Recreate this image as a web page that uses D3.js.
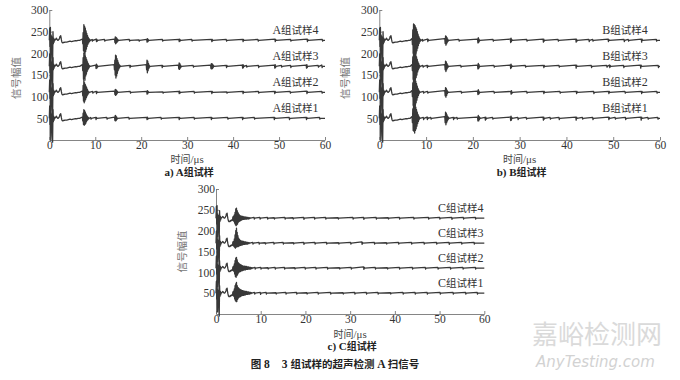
<!DOCTYPE html>
<html lang="zh">
<head>
<meta charset="UTF-8">
<title>3组试样的超声检测A扫信号</title>
<script src="https://cdn.jsdelivr.net/npm/d3@7"></script>
<style>
  body { margin:0; background:#fff; }
  .tick text { font-family:"Liberation Serif",serif; font-size:11.5px; fill:#333; }
  .domain { stroke:#666; stroke-width:0.8; }
  .tick line { stroke:#666; stroke-width:0.8; }
  path.sig { fill:none; stroke:#383838; stroke-width:1.3; stroke-linejoin:round; }
</style>
</head>
<body>
<script>
// ---- data (time in µs, amplitude relative to each trace's offset) ----
var xTicks = [0, 10, 20, 30, 40, 50, 60];
var yTicks = [50, 100, 150, 200, 250, 300];
var offsets = [50, 110, 170, 230];
var labelsA = ["A组试样1", "A组试样2", "A组试样3", "A组试样4"];
var labelsB = ["B组试样1", "B组试样2", "B组试样3", "B组试样4"];
var labelsC = ["C组试样1", "C组试样2", "C组试样3", "C组试样4"];

// bursts: [start time, samples, sample step (default 0.08)]
var headAB = [
  [0, [0,28,-14,30,-50,12,-22,8,-40,-55,20,-8,5,-4,2,0,1,2,3,5,4,2,1,0,0,1,2,3,5,9,7,11,6,1,-3,-5,-6,-6,-5]],
  [3.1, [-5,-4,-4,-3,-2,-3,-2,-1,-1,0,0], 0.35]
];
var headC = [
  [0, [0,28,-14,30,-45,10,-20,6,-40,-55,18,-8,5,-4,2,0,1,2,3,4,3,2,1,0,0,1,2,4,6,10,8,12,5,0,-4,-7,-8,-8,-7,-8,-6,-7,-5,-6,-4,-5,-3]]
];

var sigA1 = [
  [7.2, [3,-6,12,-14,20,-16,18,-14,14,-12,10,-8,7,-5,4,-3,2,-1,0]],
  [9.0,[2,-2,0]], [10.1,[2,-3,2,0]], [12.5,[2,-2,0]],
  [14.2, [3,-5,7,-6,5,-4,3,-2,0]],
  [17.3,[2,-2,0]], [21.2,[2,-3,3,-2,0]], [24.3,[2,-2,0]], [28.2,[2,-3,2,0]],
  [31.5,[2,-2,0]], [35.2,[2,-3,2,0]], [38.8,[2,-2,0]], [42.0,[2,-3,2,0]],
  [44.6,[2,-2,0]], [48.9,[2,-3,2,0]], [52.2,[2,-3,0]], [55.9,[2,-3,2,0]], [58.8,[2,-2,0]]
];
var sigA2 = [
  [7.2, [3,-8,16,-20,28,-24,22,-20,18,-16,14,-12,10,-8,6,-5,3,-2,1,0]],
  [9.4,[2,-2,0]], [10.2,[2,-3,2,0]],
  [14.2, [3,-5,7,-7,6,-5,4,-3,2,0]],
  [17.6,[2,-2,0]], [21.2,[2,-4,4,-3,2,0]], [24.7,[1,-2,0]], [28.2,[2,-3,3,-2,0]],
  [31.5,[2,-2,0]], [35.3,[2,-3,2,0]], [38.6,[1,-2,0]], [42.1,[2,-3,2,0]],
  [45.5,[2,-2,0]], [49.0,[2,-3,2,0]], [52.4,[2,-2,0]], [56.0,[3,-3,2,0]], [59.3,[2,-2,0]]
];
var sigA3 = [
  [7.2, [4,-10,20,-30,30,-28,26,-32,24,-22,20,-18,15,-12,10,-8,6,-5,3,-2,1,0]],
  [10.1, [3,-5,5,-4,3,-2,0]],
  [14.1, [4,-8,14,-20,26,-27,24,-22,18,-16,13,-10,8,-6,4,-3,2,0]],
  [17.5, [2,-3,2,0]],
  [21.1, [4,-8,14,-15,12,-10,7,-5,3,-2,0]],
  [24.5, [2,-3,2,0]],
  [28.1, [3,-6,8,-7,6,-4,3,-2,0]],
  [31.3, [2,-2,0]],
  [35.1, [3,-5,6,-6,6,-5,4,-3,2,0]],
  [38.5, [2,-3,2,0]], [42.0,[3,-4,4,-3,2,0]], [42.9,[2,-2,0]], [45.5,[2,-3,0]],
  [49.0, [3,-4,4,-3,0]], [50.5,[2,-2,0]], [52.5,[2,-3,0]], [55.9,[3,-4,4,-3,0]],
  [58.5,[2,-2,0]], [59.3,[3,-3,0]]
];
var sigA4 = [
  [7.2, [3,-8,18,-24,36,-30,32,-34,28,-26,22,-20,16,-14,11,-9,7,-6,4,-3,2,-1,0]],
  [9.3,[2,-2,1,0]], [10.2,[3,-3,2,-2,0]], [12.0,[2,-2,0]],
  [14.2, [3,-5,8,-8,7,-6,5,-4,3,-2,1,0]],
  [17.4,[2,-2,0]], [19.5,[1,-2,0]], [21.2,[2,-4,4,-3,2,-1,0]], [24.6,[2,-2,0]],
  [28.2,[2,-3,3,-2,1,0]], [31.0,[2,-2,0]], [35.3,[2,-3,2,-1,0]], [38.5,[2,-2,0]],
  [42.1,[2,-3,2,0]], [45.4,[2,-2,0]], [49.1,[3,-3,2,0]], [52.5,[2,-2,0]],
  [56.1,[3,-3,2,0]], [59.4,[2,-2,0]]
];

var sigB1 = [
  [7.0, [4,-10,22,-28,34,-30,36,-34,30,-28,26,-24,20,-18,14,-12,9,-7,5,-3,2,0]],
  [9.4,[2,-3,0]], [10.2,[3,-3,2,0]], [11.0,[2,-2,0]],
  [14.0, [4,-10,14,-15,12,-10,8,-6,4,-3,2,0]],
  [15.8,[2,-3,2,0]], [16.6,[2,-2,0]],
  [21.0, [3,-6,7,-6,4,-3,2,0]], [22.6,[2,-4,3,-2,0]], [24.2,[2,-2,0]],
  [28.0, [3,-5,5,-4,2,0]], [29.6,[2,-3,0]], [31.4,[2,-2,0]],
  [35.0, [3,-4,3,-2,0]], [36.5,[2,-2,0]], [38.4,[2,-3,0]],
  [42.0, [3,-4,3,0]], [43.4,[2,-2,0]], [45.6,[2,-3,0]],
  [49.0, [3,-3,2,0]], [50.4,[2,-2,0]], [52.6,[2,-3,0]],
  [55.9, [3,-4,3,0]], [57.4,[2,-2,0]], [59.5,[2,-2,0]]
];
var sigB2 = [
  [7.0, [4,-10,22,-30,36,-34,34,-36,30,-30,26,-24,20,-18,14,-12,9,-7,5,-3,2,0]],
  [9.4,[2,-2,0]], [10.3,[2,-2,0]],
  [14.0, [4,-8,11,-11,9,-7,5,-3,2,0]],
  [17.5,[2,-2,0]], [21.0,[3,-5,6,-4,3,-2,0]], [24.5,[2,-2,0]], [28.1,[2,-4,4,-3,0]],
  [31.5,[2,-2,0]], [35.1,[2,-3,2,0]], [38.6,[2,-2,0]], [42.1,[2,-3,2,0]],
  [45.8,[2,-3,0]], [49.0,[2,-3,2,0]], [52.5,[2,-2,0]], [56.0,[2,-3,2,0]], [59.3,[2,-2,0]]
];
var sigB3 = [
  [7.0, [4,-10,22,-30,36,-36,34,-36,32,-30,28,-26,22,-20,16,-13,10,-8,6,-4,2,-1,0]],
  [9.3,[2,-2,0]], [10.2,[2,-3,2,0]],
  [14.0, [4,-8,12,-12,10,-8,6,-4,3,-2,0]],
  [17.4,[2,-2,0]], [21.0,[3,-6,7,-5,4,-2,0]], [24.5,[2,-2,0]], [28.0,[3,-5,5,-3,2,0]],
  [31.2,[2,-2,0]], [35.1,[2,-3,2,0]], [38.4,[2,-2,0]], [42.0,[3,-4,3,0]],
  [45.3,[2,-3,0]], [48.6,[2,-2,0]], [49.2,[3,-3,2,0]], [52.2,[2,-3,0]],
  [55.8,[3,-4,3,0]], [59.6,[2,-3,0]]
];
var sigB4 = [
  [7.0, [4,-10,24,-30,38,-36,36,-38,34,-34,30,-30,26,-24,20,-18,14,-12,9,-7,5,-3,2,-1,0]],
  [9.2,[2,-2,0]], [10.3,[3,-3,2,0]],
  [14.0, [4,-7,10,-11,9,-8,6,-4,3,-2,0]],
  [17.0,[2,-2,0]], [21.0,[3,-6,6,-5,3,-2,0]], [24.3,[2,-2,0]], [28.0,[3,-5,5,-3,2,0]],
  [31.5,[2,-2,0]], [35.0,[3,-4,3,-2,0]], [38.2,[2,-2,0]], [42.0,[3,-4,3,-2,0]],
  [44.8,[2,-3,0]], [45.6,[2,-2,0]], [48.9,[3,-3,2,0]], [52.3,[2,-3,0]],
  [53.2,[2,-2,0]], [56.0,[3,-4,3,0]], [59.2,[2,-2,0]]
];

var sigC1 = [
  [3.7, [-4,3,-6,5,-8,10,-14,18,-18,22,-20,26,-20,18,-15,14,-12,12,-10,10,-9,9,-8,8,-7,7,-6,6,-5,6,-5,5,-5,5,-4,4,-4,4,-3,4,-3,3,-3,3,-2,3,-2,2,-2,2,-1,2,-1,1,0]],
  [8.6,[2,-2,0]], [9.9,[2,-3,0]], [11.2,[2,-2,0]], [13.4,[1,-2,0]], [15.6,[2,-2,0]],
  [18.0,[2,-2,0]], [20.3,[1,-2,0]], [22.8,[2,-2,0]], [25.6,[2,-2,0]], [28.4,[1,-2,0]],
  [31.0,[2,-2,0]], [33.6,[2,-2,0]], [36.2,[2,-2,0]], [39.0,[1,-2,0]], [41.8,[2,-2,0]],
  [44.5,[2,-2,0]], [47.2,[2,-2,0]], [50.1,[2,-2,0]], [53.0,[2,-2,0]], [55.8,[2,-2,0]], [58.4,[2,-2,0]]
];
var sigC2 = [
  [3.7, [-4,3,-6,5,-8,10,-14,18,-20,24,-22,26,-18,20,-16,14,-12,12,-10,10,-8,9,-8,8,-7,7,-6,6,-6,5,-5,5,-4,5,-4,4,-4,4,-3,4,-3,3,-3,3,-2,3,-2,2,-2,2,-2,2,-1,1,-1,1,0]],
  [8.7,[2,-2,0]], [10.0,[2,-2,0]], [11.6,[1,-2,0]], [13.2,[2,-2,0]], [15.3,[2,-2,0]],
  [17.6,[1,-2,0]], [19.9,[2,-2,0]], [22.3,[2,-2,0]], [24.9,[2,-2,0]], [27.6,[1,-2,0]],
  [30.2,[2,-2,0]], [33.0,[3,-3,2,0]], [35.6,[2,-2,0]], [38.3,[1,-2,0]], [41.0,[2,-2,0]],
  [43.9,[2,-2,0]], [46.8,[2,-2,0]], [49.6,[2,-2,0]], [52.4,[2,-2,0]], [55.2,[2,-2,0]], [58.0,[2,-2,0]]
];
var sigC3 = [
  [3.7, [-4,3,-6,4,-8,10,-10,20,-12,30,-10,36,-8,26,-8,18,-8,12,-7,9,-6,7,-5,6,-5,5,-4,5,-4,4,-3,4,-3,3,-3,3,-2,3,-2,2,-2,2,-2,2,-1,1,-1,1,0]],
  [8.2,[2,-2,0]], [9.6,[2,-2,0]], [11.0,[1,-2,0]], [12.9,[2,-2,0]], [15.0,[2,-2,0]],
  [17.3,[1,-2,0]], [19.6,[2,-3,0]], [22.1,[2,-2,0]], [24.7,[2,-2,0]], [27.4,[1,-2,0]],
  [30.1,[2,-2,0]], [32.6,[3,-3,2,0]], [35.4,[2,-2,0]], [38.1,[1,-2,0]], [40.8,[2,-2,0]],
  [43.7,[2,-2,0]], [46.5,[2,-2,0]], [49.3,[2,-2,0]], [52.1,[2,-3,0]], [54.9,[2,-2,0]], [57.7,[2,-2,0]]
];
var sigC4 = [
  [3.7, [-4,3,-6,5,-8,8,-12,14,-16,22,-18,24,-16,18,-14,14,-10,10,-8,8,-7,6,-6,5,-5,5,-4,4,-3,4,-3,3,-3,3,-2,2,-2,3,-2,2,-2,2,-1,2,-2,1,-1,1,-1,1,0]],
  [8.5,[2,-2,0]], [9.8,[2,-2,0]], [11.5,[2,-2,0]], [13.0,[1,-2,0]], [15.4,[2,-2,0]],
  [17.2,[1,-2,0]], [19.6,[2,-3,0]], [22.0,[2,-2,0]], [24.5,[2,-2,0]], [27.3,[1,-2,0]],
  [30.6,[2,-2,0]], [33.0,[2,-3,0]], [35.8,[2,-2,0]], [38.5,[1,-2,0]], [41.0,[2,-2,0]],
  [44.2,[2,-2,0]], [47.5,[2,-2,0]], [50.0,[2,-2,0]], [52.7,[2,-3,0]], [55.3,[2,-2,0]], [58.0,[2,-2,0]]
];

// ---- layout ----
var W = 680, H = 380;
var panels = [
  {x0:49.3, x1:325, yt:10, yb:140, head:headAB, sigs:[sigA1,sigA2,sigA3,sigA4], labels:labelsA,
   labelT:58.6, yLabelX:20, yLabelDy:3, title:"a) A组试样", titleY:176, xLabelY:163},
  {x0:379.3, x1:660, yt:10, yb:140, head:headAB, sigs:[sigB1,sigB2,sigB3,sigB4], labels:labelsB,
   labelT:57.4, yLabelX:349, yLabelDy:3, title:"b) B组试样", titleY:176, xLabelY:163},
  {x0:216, x1:484.3, yt:189, yb:314, head:headC, sigs:[sigC1,sigC2,sigC3,sigC4], labels:labelsC,
   labelT:59.8, yLabelX:186, yLabelDy:0, title:"c) C组试样", titleY:350, xLabelY:337.5}
];

var svg = d3.select("body").append("svg")
  .attr("width", W).attr("height", H)
  .style("font-family", "'Liberation Serif','Noto Sans CJK SC',serif");

// write text with latin runs in serif and chinese runs in CJK font
function mixText(t, str, latinSize, cjkSize) {
  var runs = str.match(/[\u4e00-\u9fff]+|[^\u4e00-\u9fff]+/g);
  runs.forEach(function(r) {
    var cjk = /[\u4e00-\u9fff]/.test(r);
    t.append("tspan").text(r)
      .style("font-family", cjk ? "'Noto Sans CJK SC'" : "'Liberation Serif',serif")
      .style("font-size", (cjk ? cjkSize : latinSize) + "px");
  });
  return t;
}

function build(head, bursts) {
  var pts = [[0, 0]];
  head.concat(bursts).forEach(function(b) {
    var dt = b[2] || 0.08;
    b[1].forEach(function(v, i) { pts.push([b[0] + i * dt, v]); });
  });
  pts.push([60, 0]);
  pts.sort(function(a, b) { return a[0] - b[0]; });
  return pts;
}

panels.forEach(function(p) {
  var x = d3.scaleLinear().domain([0, 60]).range([p.x0, p.x1]);
  var y = d3.scaleLinear().domain([0, 300]).range([p.yb, p.yt]);
  var g = svg.append("g");

  g.append("g").attr("transform", "translate(0," + p.yb + ")")
    .call(d3.axisBottom(x).tickValues(xTicks).tickSizeInner(-3).tickSizeOuter(0).tickPadding(1));
  g.append("g").attr("transform", "translate(" + p.x0 + ",0)")
    .call(d3.axisLeft(y).tickValues(yTicks).tickSizeInner(-3).tickSizeOuter(0).tickPadding(1));

  p.sigs.forEach(function(s, i) {
    var off = offsets[i];
    var line = d3.line()
      .x(function(d) { return x(d[0]); })
      .y(function(d) { return y(off + d[1]); });
    g.append("path").attr("class", "sig").attr("d", line(build(p.head, s)));

    mixText(g.append("text")
      .attr("x", x(p.labelT)).attr("y", y(off) - 6)
      .attr("text-anchor", "end").attr("fill", "#333"), p.labels[i], 12, 10.5);
  });

  // axis titles
  mixText(g.append("text")
    .attr("transform", "translate(" + p.yLabelX + "," + ((p.yt + p.yb) / 2 + p.yLabelDy) + ") rotate(-90)")
    .attr("text-anchor", "middle").attr("fill", "#777"), "信号幅值", 11, 10.5);
  mixText(g.append("text")
    .attr("x", (p.x0 + p.x1) / 2).attr("y", p.xLabelY)
    .attr("text-anchor", "middle").attr("fill", "#444"), "时间/μs", 11, 10);
  mixText(g.append("text")
    .attr("x", (p.x0 + p.x1) / 2 + 2).attr("y", p.titleY)
    .attr("text-anchor", "middle").attr("fill", "#222").style("font-weight", "bold"), p.title, 11, 10);
});

// figure caption
mixText(svg.append("text")
  .attr("x", 335).attr("y", 368)
  .attr("text-anchor", "middle").attr("fill", "#222").style("font-weight", "bold"),
  "图 8　3 组试样的超声检测 A 扫信号", 11.5, 10.5);

// watermark
svg.append("text").attr("x", 532).attr("y", 344)
  .style("font-family", "'Noto Sans CJK SC'").style("font-size", "26px")
  .attr("fill", "#dadada").text("嘉峪检测网");
svg.append("text").attr("x", 536).attr("y", 367)
  .style("font-family", "'DejaVu Sans'").style("font-size", "15px").style("font-style", "italic")
  .attr("fill", "#d2d2d2").text("AnyTesting.com");
</script>
</body>
</html>
